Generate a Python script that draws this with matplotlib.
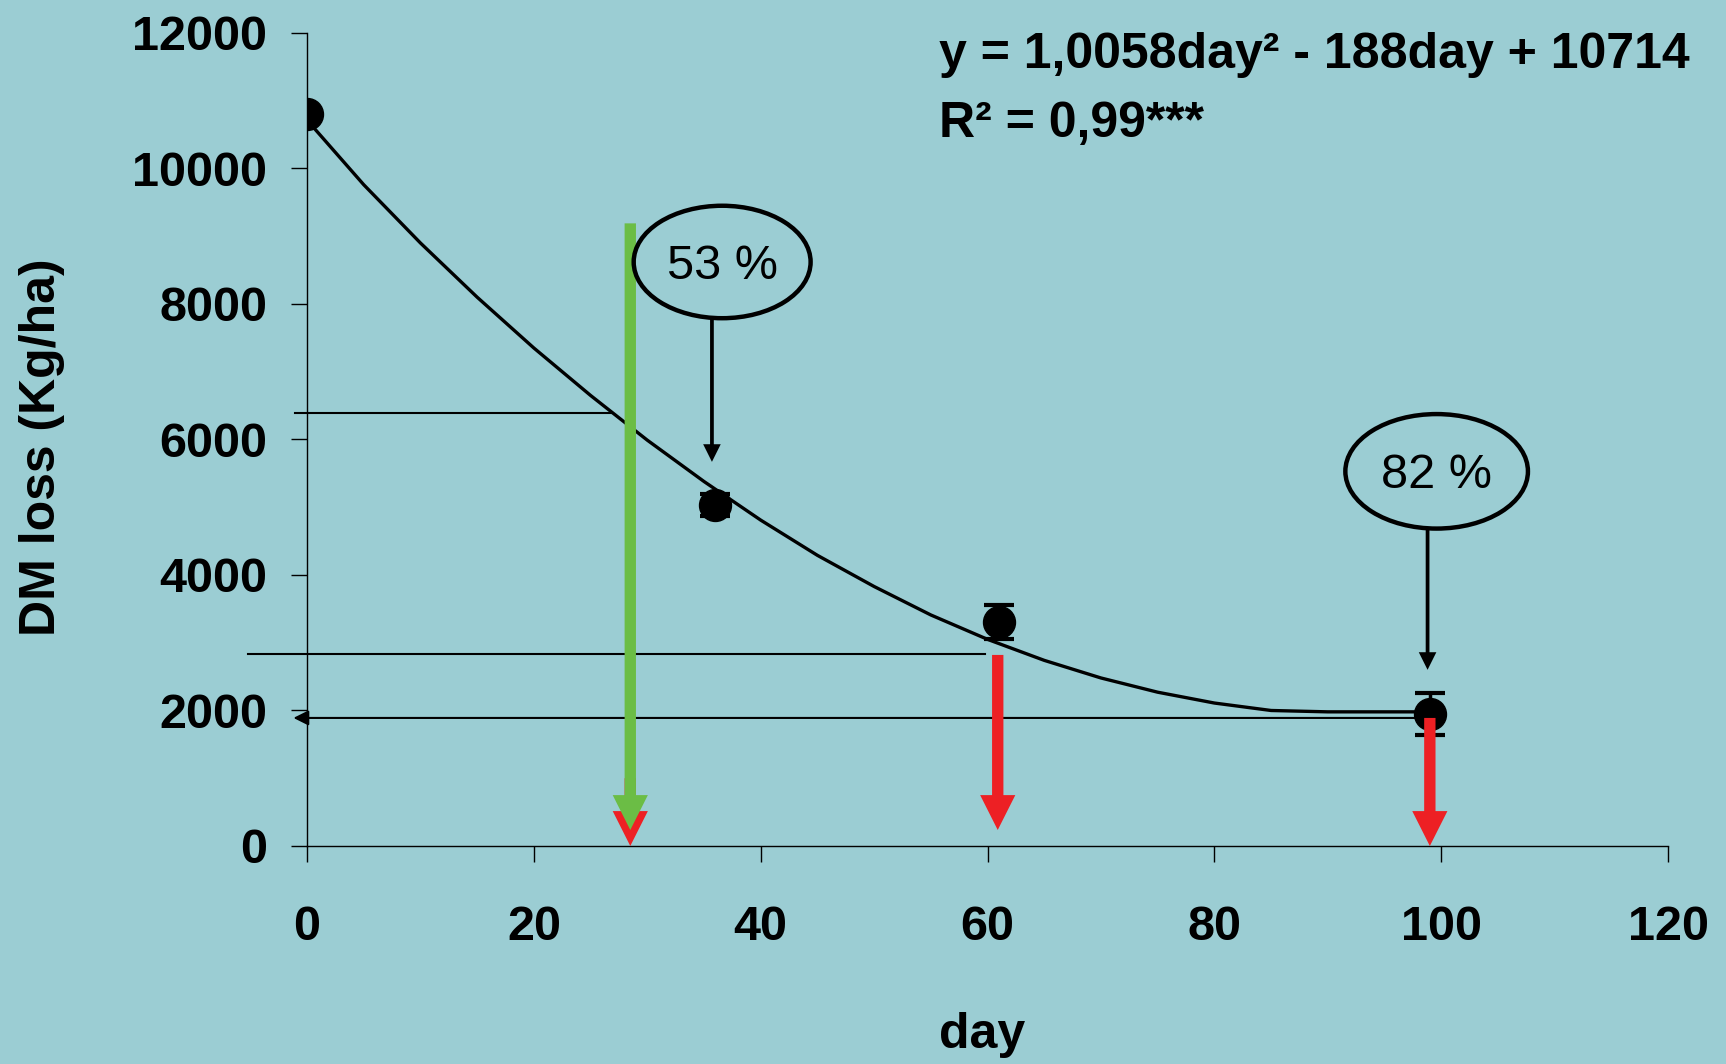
import matplotlib
matplotlib.use("Agg")
import matplotlib.pyplot as plt
from matplotlib.patches import Ellipse

plt.rcParams['font.family'] = ['Liberation Sans', 'DejaVu Sans']

# measured points (mean +- error)
days = [0, 36, 61, 99]
dm_loss = [10800, 5030, 3300, 1950]
dm_err = [60, 160, 250, 310]

# trend line
trend_days = [0, 5, 10, 15, 20, 25, 30, 35, 40, 45, 50, 55, 60, 65, 70, 75, 80, 85, 90, 95, 99]
trend_vals = [10714, 9760, 8900, 8100, 7350, 6650, 5990, 5380, 4810, 4290, 3830,
              3410, 3050, 2740, 2480, 2270, 2110, 2000, 1980, 1980, 1980]

x_ticks = [0, 20, 40, 60, 80, 100, 120]
y_ticks = [0, 2000, 4000, 6000, 8000, 10000, 12000]

# horizontal guide lines
guide_y = [6390, 2830]
guide_x0 = [-1.1, -5.2]
guide_x1 = [26.8, 59.8]
back_arrow_y = 1890
back_arrow_x = [98.6, -1.2]

# big vertical arrows (the red one at 28.5 sits under the green one)
arrow_x = [28.5, 28.5, 60.9, 99.0]
arrow_top = [1000, 9190, 2820, 1890]
arrow_tip = [0, 236, 236, 0]
arrow_col = ['#ED2024', '#6BBD45', '#ED2024', '#ED2024']

# callouts
call_text = ['53 %', '82 %']
call_x = [36.6, 99.6]
call_y = [8620, 5530]
call_w = [15.6, 16.1]
call_h = [1660, 1690]
call_arrow_x = [35.7, 98.8]
call_arrow_tip = [5670, 2600]

bg = '#9BCDD3'
fig = plt.figure(figsize=(17.26, 10.64), dpi=100, facecolor=bg)
ax = fig.add_axes([0.1779, 0.2049, 0.7885, 0.7641], facecolor=bg)

ax.plot(trend_days, trend_vals, color='black', lw=2.4, zorder=3)
ax.errorbar(days, dm_loss, yerr=dm_err, fmt='o', color='black', ms=23,
            capsize=11, capthick=3, elinewidth=2.5, zorder=4)

for y, x0, x1 in zip(guide_y, guide_x0, guide_x1):
    ax.plot([x0, x1], [y, y], color='black', lw=1.5, clip_on=False, zorder=2)

ax.annotate('', xy=(back_arrow_x[1], back_arrow_y), xytext=(back_arrow_x[0], back_arrow_y),
            arrowprops=dict(arrowstyle='-|>,head_length=0.9,head_width=0.45', lw=1.5,
                            color='black', shrinkA=0, shrinkB=0, mutation_scale=10),
            annotation_clip=False, zorder=2)

for x, top, tip, c in zip(arrow_x, arrow_top, arrow_tip, arrow_col):
    ax.arrow(x, top, 0, tip - top, width=1.0, head_width=3.1, head_length=515,
             length_includes_head=True, color=c, lw=0, zorder=5)

for t, cx, cy, w, h, ax_x, tip in zip(call_text, call_x, call_y, call_w, call_h,
                                      call_arrow_x, call_arrow_tip):
    ax.add_patch(Ellipse((cx, cy), w, h, fill=False, lw=3.2, edgecolor='black', zorder=6))
    ax.text(cx, cy - 60, t, fontsize=35, ha='center', va='center', zorder=7)
    ax.arrow(ax_x, cy - h / 2, 0, tip - (cy - h / 2), width=0.33, head_width=1.55,
             head_length=260, length_includes_head=True, color='black', lw=0, zorder=6)

ax.set_xlim(0, 120)
ax.set_ylim(0, 12000)
ax.set_xticks(x_ticks)
ax.set_yticks(y_ticks)
ax.spines['top'].set_visible(False)
ax.spines['right'].set_visible(False)
for s in ['left', 'bottom']:
    ax.spines[s].set_linewidth(1.0)
ax.tick_params(axis='both', direction='out', length=11.5, width=1.0, labelsize=35)
ax.tick_params(axis='x', pad=31)
ax.tick_params(axis='y', pad=17)
for lab in ax.get_xticklabels() + ax.get_yticklabels():
    lab.set_fontweight('bold')

ax.set_xlabel('day', fontsize=36, fontweight='bold', va='center')
ax.xaxis.set_label_coords(0.496, -0.2325)
ax.set_ylabel('DM loss (Kg/ha)', fontsize=36, fontweight='bold', va='center')
ax.yaxis.set_label_coords(-0.1945, 0.491)

fig.text(939 / 1726, 1 - 55 / 1064, 'y = 1,0058day² - 188day + 10714',
         fontsize=36, fontweight='bold', va='center', ha='left')
fig.text(939 / 1726, 1 - 124 / 1064, 'R² = 0,99***',
         fontsize=36, fontweight='bold', va='center', ha='left')

fig.savefig('out.png', dpi=100, facecolor=bg)
